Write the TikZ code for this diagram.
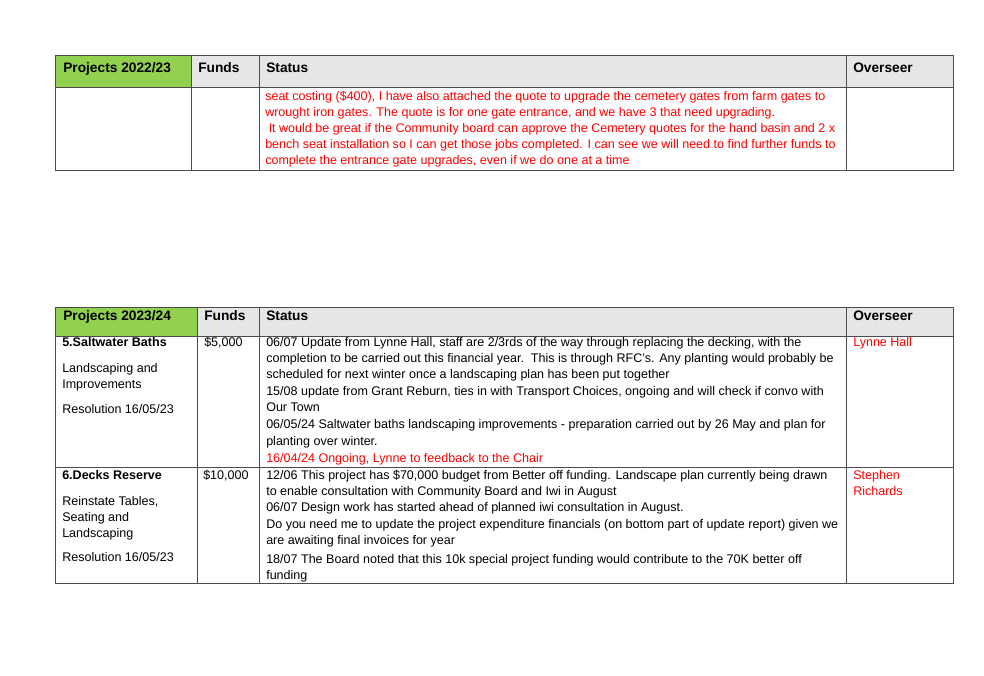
\documentclass[tikz,border=0pt]{standalone}
\usepackage{fontspec}
\setmainfont{Liberation Sans}
\begin{document}
\begin{tikzpicture}[x=0.75pt,y=-0.75pt,
  tx/.style={anchor=base west,inner sep=0pt,font=\fontsize{9.4}{11}\selectfont},
  rd/.style={tx,text={rgb,255:red,255;green,0;blue,0}},
  hd/.style={anchor=base west,inner sep=0pt,font=\fontsize{10.3}{12}\selectfont\bfseries},
  bd/.style={tx,font=\fontsize{9.4}{11}\selectfont\bfseries},
  grid/.style={draw=black!70,line width=0.6pt}]
\useasboundingbox (0,0) rectangle (984,675);
\definecolor{hgreen}{RGB}{146,208,80}
\definecolor{hgray}{RGB}{231,230,230}
% table 1
\fill[hgreen] (55,55) rectangle (191,87);
\fill[hgray] (191,55) rectangle (953,87);
\draw[grid] (55,55) rectangle (953,170);
\draw[grid] (55,87) -- (953,87);
\foreach \x in {191,259,846} \draw[grid] (\x,55) -- (\x,170);
\node[hd] (h1) at (63,72) {Projects 2022/23};
\node[hd] (h2) at (198,72) {Funds};
\node[hd] (h3) at (266,72) {Status};
\node[hd] (h4) at (853,72) {Overseer};
\node[rd] (a1) at (265,100) {seat costing (\$400), I have also attached the quote to upgrade the cemetery gates from farm gates to};
\node[rd] (a2) at (265,116) {wrought iron gates. The quote is for one gate entrance, and we have 3 that need upgrading.};
\node[rd] (a3) at (265,132) {\ It would be great if the Community board can approve the Cemetery quotes for the hand basin and 2 x};
\node[rd] (a4) at (265,148) {bench seat installation so I can get those jobs completed. I can see we will need to find further funds to};
\node[rd] (a5) at (265,164) {complete the entrance gate upgrades, even if we do one at a time};
% table 2
\fill[hgreen] (55,307) rectangle (197,336);
\fill[hgray] (197,307) rectangle (953,336);
\draw[grid] (55,307) rectangle (953,583);
\draw[grid] (55,336) -- (953,336);
\draw[grid] (55,467) -- (953,467);
\foreach \x in {197,259,846} \draw[grid] (\x,307) -- (\x,583);
\node[hd] (g1) at (63,320) {Projects 2023/24};
\node[hd] (g2) at (204,320) {Funds};
\node[hd] (g3) at (266,320) {Status};
\node[hd] (g4) at (853,320) {Overseer};
\node[bd] (l1) at (62,346) {5.Saltwater Baths};
\node[tx] (l2) at (62,372) {Landscaping and};
\node[tx] (l3) at (62,388) {Improvements};
\node[tx] (l4) at (62,413) {Resolution 16/05/23};
\node[tx] (f1) at (204,346) {\$5,000};
\node[rd] (o1) at (853,346) {Lynne Hall};
\node[tx] (s1) at (266,346) {06/07 Update from Lynne Hall, staff are 2/3rds of the way through replacing the decking, with the};
\node[tx] (s2) at (266,362) {completion to be carried out this financial year.\ \ This is through RFC’s. Any planting would probably be};
\node[tx] (s3) at (266,378) {scheduled for next winter once a landscaping plan has been put together};
\node[tx] (s4) at (266,395) {15/08 update from Grant Reburn, ties in with Transport Choices, ongoing and will check if convo with};
\node[tx] (s5) at (266,411) {Our Town};
\node[tx] (s6) at (266,428) {06/05/24 Saltwater baths landscaping improvements - preparation carried out by 26 May and plan for};
\node[tx] (s7) at (266,445) {planting over winter.};
\node[rd] (s8) at (266,462) {16/04/24 Ongoing, Lynne to feedback to the Chair};
\node[bd] (m1) at (62,479) {6.Decks Reserve};
\node[tx] (m2) at (62,505) {Reinstate Tables,};
\node[tx] (m3) at (62,521) {Seating and};
\node[tx] (m4) at (62,537) {Landscaping};
\node[tx] (m5) at (62,561) {Resolution 16/05/23};
\node[tx] (f2) at (203,479) {\$10,000};
\node[rd] (o2) at (853,479) {Stephen};
\node[rd] (o3) at (853,495) {Richards};
\node[tx] (t1) at (266,479) {12/06 This project has \$70,000 budget from Better off funding. Landscape plan currently being drawn};
\node[tx] (t2) at (266,495) {to enable consultation with Community Board and Iwi in August};
\node[tx] (t3) at (266,511) {06/07 Design work has started ahead of planned iwi consultation in August.};
\node[tx] (t4) at (266,528) {Do you need me to update the project expenditure financials (on bottom part of update report) given we};
\node[tx] (t5) at (266,544) {are awaiting final invoices for year};
\node[tx] (t6) at (266,563) {18/07 The Board noted that this 10k special project funding would contribute to the 70K better off};
\node[tx] (t7) at (266,579) {funding};
\end{tikzpicture}
\end{document}
